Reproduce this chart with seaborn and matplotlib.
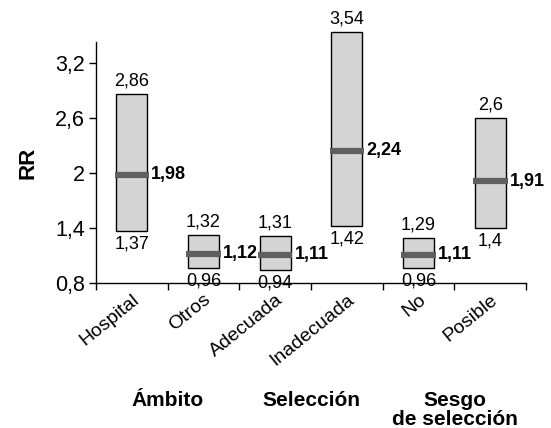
import matplotlib
matplotlib.use("Agg")
import matplotlib.pyplot as plt
import matplotlib.transforms as mtransforms
import seaborn as sns
import pandas as pd

# data
categories = ["Hospital", "Otros", "Adecuada", "Inadecuada", "No", "Posible"]
rr = [1.98, 1.12, 1.11, 2.24, 1.11, 1.91]
lower = [1.37, 0.96, 0.94, 1.42, 0.96, 1.4]
upper = [2.86, 1.32, 1.31, 3.54, 1.29, 2.6]
groups = ["Ámbito", "Selección", "Sesgo\nde selección"]
yticks = [0.8, 1.4, 2.0, 2.6, 3.2]

def fmt(v):
    return f"{v:g}".replace(".", ",")

df = pd.DataFrame({"cat": categories, "rr": rr, "lo": lower, "hi": upper})
df["span"] = df["hi"] - df["lo"]

sns.set_theme(style="ticks")
plt.rcParams["font.family"] = ["Liberation Sans", "DejaVu Sans"]
for k in ["text.color", "axes.labelcolor", "xtick.color", "ytick.color", "axes.edgecolor"]:
    plt.rcParams[k] = "black"

fig = plt.figure(figsize=(5.51, 4.28), dpi=100)
ax = fig.add_axes([0.174, 0.339, 0.781, 0.563])

# floating boxes = confidence intervals
sns.barplot(data=df, x="cat", y="span", bottom=df["lo"].values, width=0.43,
            color="#d4d4d4", edgecolor="black", linewidth=1.0, saturation=1,
            ax=ax, clip_on=False, zorder=2)

xs = range(len(categories))
ax.hlines(df["rr"], [x - 0.24 for x in xs], [x + 0.24 for x in xs],
          colors="#5f5f5f", linewidth=4.5, zorder=3, clip_on=False)

for i, row in df.iterrows():
    ax.text(i, row["hi"] + 0.05, fmt(row["hi"]), ha="center", va="bottom",
            fontsize=13, clip_on=False)
    ax.text(i, row["lo"] - 0.05, fmt(row["lo"]), ha="center", va="top",
            fontsize=13)
    ax.text(i + 0.27, row["rr"], fmt(row["rr"]), ha="left", va="center",
            fontsize=13, fontweight="bold")

ax.set_xlim(-0.5, 5.5)
ax.set_ylim(0.8, 3.43)
ax.set_yticks(yticks)
ax.set_yticklabels([fmt(v) for v in yticks], fontsize=15.5)
ax.set_xticks(list(xs))
ax.set_xticklabels(categories, rotation=39, ha="right", rotation_mode="anchor",
                   fontsize=14)
shift = mtransforms.ScaledTranslation(6 / 100, 0, fig.dpi_scale_trans)
for lab in ax.get_xticklabels():
    lab.set_transform(lab.get_transform() + shift)
ax.tick_params(axis="x", length=0, pad=6)
ax.set_xticks([x - 0.5 for x in range(len(categories) + 1)], minor=True)
ax.tick_params(axis="x", which="minor", length=5, width=1, color="black")
ax.tick_params(axis="y", length=5, width=1, color="black", pad=3)
ax.set_xlabel("")
ax.set_ylabel("RR", fontsize=16, fontweight="bold", labelpad=12)
sns.despine(ax=ax)
for s in ["left", "bottom"]:
    ax.spines[s].set_linewidth(1.0)

# group labels under the category pairs
trans = mtransforms.blended_transform_factory(ax.transData, ax.transAxes)
for g, x in zip(groups, [0.5, 2.5, 4.5]):
    ax.text(x, -0.447, g, transform=trans, ha="center", va="top", fontsize=15,
            fontweight="bold", linespacing=1.0)

fig.savefig("out.png", dpi=100)
